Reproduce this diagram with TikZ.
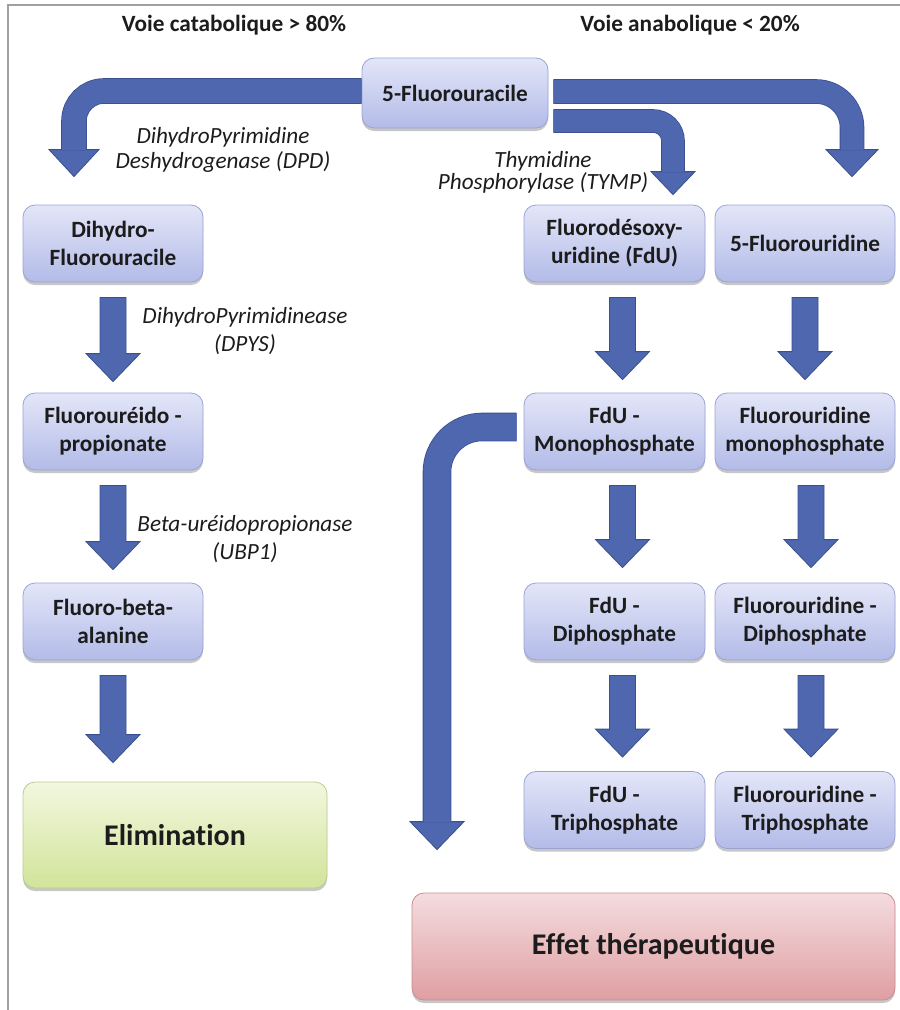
\documentclass[tikz,border=0pt]{standalone}
\usepackage{fontspec}
\setmainfont{Carlito}[Ligatures=NoCommon]
\usetikzlibrary{calc,shadows}
\definecolor{boxtop}{HTML}{E3E6F8}
\definecolor{boxbot}{HTML}{B3BBE8}
\definecolor{boxline}{HTML}{9AA3D2}
\definecolor{arrowblue}{HTML}{4E67AE}
\definecolor{arrowdark}{HTML}{3A4F8F}
\definecolor{elimtop}{HTML}{F2F7DE}
\definecolor{elimbot}{HTML}{D2E49A}
\definecolor{elimline}{HTML}{BCCB8E}
\definecolor{efftop}{HTML}{F4DCDE}
\definecolor{effbot}{HTML}{DF9FA2}
\definecolor{effline}{HTML}{C98D91}
\definecolor{txt}{HTML}{1C1C1C}
\definecolor{framecol}{HTML}{A0A0A0}

\newcommand\vflow[4]{%
  \coordinate (va) at ($(#1.south)+(#3,15)$);
  \coordinate (vb) at ($(#2.north)+(0,-#4)$);
  \coordinate (vtip) at (va |- vb);
  \draw[arrhead] ($(va)+(-13,0)$) -- ($(va)+(13,0)$) -- ($(vtip)+(13,-28)$)
    -- ($(vtip)+(27,-28)$) -- (vtip) -- ($(vtip)+(-27,-28)$)
    -- ($(vtip)+(-13,-28)$) -- cycle;
}

\begin{document}
\begin{tikzpicture}[x=1pt,y=-1pt,
  box/.style={draw=boxline, line width=0.8pt, rounded corners=12pt,
    top color=boxtop, bottom color=boxbot,
    minimum width=181pt, minimum height=77pt, align=center, inner sep=2pt,
    text=txt, font=\bfseries\fontsize{23.3}{28}\selectfont,
    drop shadow={shadow xshift=0pt, shadow yshift=-3pt, opacity=0.22, fill=black}},
  bigbox/.style={box, font=\bfseries\fontsize{30}{34}\selectfont},
  title/.style={text=txt, font=\bfseries\fontsize{23.3}{26}\selectfont, inner sep=0pt},
  enz/.style={text=txt, align=center, inner sep=0pt, font=\itshape\fontsize{23.2}{#1}\selectfont},
  arrhead/.style={fill=arrowblue, draw=arrowdark, line width=0.8pt, line join=miter},
  band/.style={draw=arrowdark, line width=0.8pt, double=arrowblue, double distance=#1},
]
\useasboundingbox (0,0) rectangle (900,1010);
\draw[framecol, line width=2pt] (8,1010) -- (8,5) -- (900,5);

% titles
\node[title] (t1) at (234,25) {Voie catabolique > 80\%};
\node[title] (t2) at (690,25) {Voie anabolique < 20\%};

% boxes
\node[box, minimum width=186pt, minimum height=70pt] (fu) at (455,93) {5-Fluorouracile};
\node[box, minimum width=180pt] (dhfu) at (113,243.5) {Dihydro-\\Fluorouracile};
\node[box, minimum width=180pt] (fup) at (113,431.5) {Fluorouréido -\\propionate};
\node[box, minimum width=180pt] (fba) at (113,621.5) {Fluoro-beta-\\alanine};
\node[bigbox, minimum width=304pt, minimum height=106pt,
  top color=elimtop, bottom color=elimbot, draw=elimline] (elim) at (175,835) {Elimination};

\node[box] (fdu) at (614.5,243.5) {Fluorodésoxy-\\uridine (FdU)};
\node[box, minimum width=180pt] (fur) at (805,243.5) {5-Fluorouridine};
\node[box] (fdump) at (614.5,431.5) {FdU -\\Monophosphate};
\node[box, minimum width=180pt] (furmp) at (805,431.5) {Fluorouridine\\monophosphate};
\node[box] (fdudp) at (614.5,621.5) {FdU -\\Diphosphate};
\node[box, minimum width=180pt] (furdp) at (805,621.5) {Fluorouridine -\\Diphosphate};
\node[box] (fdutp) at (614.5,810) {FdU -\\Triphosphate};
\node[box, minimum width=180pt] (furtp) at (805,810) {Fluorouridine -\\Triphosphate};
\node[bigbox, minimum width=483pt, minimum height=107pt,
  top color=efftop, bottom color=effbot, draw=effline] (effet) at (653.5,946.5) {Effet thérapeutique};

% enzyme labels
\node[enz=25] (dpd) at (223,150) {DihydroPyrimidine\\Deshydrogenase (DPD)};
\node[enz=22] (tymp) at (543,172.5) {Thymidine\\Phosphorylase (TYMP)};
\node[enz=28] (dpys) at (245,331) {DihydroPyrimidinease\\(DPYS)};
\node[enz=28] (ubp) at (245,539) {Beta-uréidopropionase\\(UBP1)};

% bent arrows from 5-FU
\coordinate (dpdtip) at ($(dhfu.north)+(-39,-28)$);
\draw[arrhead] ($(dpdtip)+(-25,-27)$) -- (dpdtip) -- ($(dpdtip)+(25,-27)$) -- cycle;
\draw[band=24pt, rounded corners=30pt] ($(fu.west)+(0,-2)$) -| ($(dpdtip)+(0,-26.4)$);

\coordinate (rtip) at ($(fur.north)+(47,-28)$);
\draw[arrhead] ($(rtip)+(-26,-27)$) -- (rtip) -- ($(rtip)+(26,-27)$) -- cycle;
\draw[band=23pt, rounded corners=36pt] ($(fu.east)+(5,-1.5)$) -| ($(rtip)+(0,-26.4)$);

\coordinate (ttip) at ($(fdu.north)+(58.5,-10)$);
\draw[arrhead] ($(ttip)+(-22,-23)$) -- (ttip) -- ($(ttip)+(22,-23)$) -- cycle;
\draw[band=22pt, rounded corners=20pt] ($(fu.east)+(5,28)$) -| ($(ttip)+(0,-22.4)$);

% FdU-monophosphate to therapeutic effect
\coordinate (etip) at ($(effet.north)+(-216.5,-43)$);
\draw[arrhead] ($(etip)+(-27,-28)$) -- (etip) -- ($(etip)+(27,-28)$) -- cycle;
\draw[band=27pt, rounded corners=45pt] ($(fdump.west)+(-7,-4.5)$) -| ($(etip)+(0,-27.4)$);

% straight arrows
\vflow{dhfu}{fup}{0}{11}
\vflow{fup}{fba}{0}{13}
\vflow{fba}{elim}{0}{19}
\vflow{fdu}{fdump}{8}{13}
\vflow{fdump}{fdudp}{8}{15}
\vflow{fdudp}{fdutp}{8}{14}
\vflow{fur}{furmp}{0}{13}
\vflow{furmp}{furdp}{6}{15}
\vflow{furdp}{furtp}{6}{14}
\end{tikzpicture}
\end{document}
